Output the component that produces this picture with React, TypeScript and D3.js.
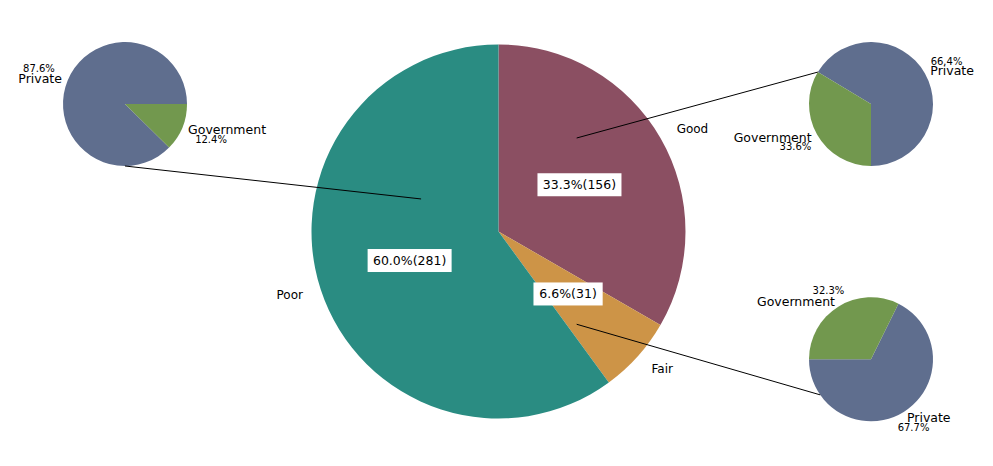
import React from 'react';
import * as d3 from 'd3';

const mainCategories = ['Good', 'Fair', 'Poor'];
const mainValues = [156, 31, 281];
const mainColors = ['#8B4F62', '#CD9447', '#2A8C82'];

const subCategories = ['Private', 'Government'];
const goodSub = [66.4, 33.6];
const fairSub = [67.7, 32.3];
const poorSub = [87.6, 12.4];
const subColors = ['#5F6E8E', '#72984E'];

type Wedge = { t1: number; t2: number; mid: number; value: number; frac: number };

function wedges(values: number[], startAngle: number, counterclock: boolean): Wedge[] {
  const total = d3.sum(values);
  let theta = startAngle;
  return values.map((v) => {
    const span = (v / total) * 360 * (counterclock ? 1 : -1);
    const t1 = theta;
    const t2 = theta + span;
    theta = t2;
    return { t1, t2, mid: (t1 + t2) / 2, value: v, frac: v / total };
  });
}

const rad = (deg: number) => (deg * Math.PI) / 180;
const pt = (cx: number, cy: number, r: number, deg: number): [number, number] => [
  cx + r * Math.cos(rad(deg)),
  cy - r * Math.sin(rad(deg)),
];

function wedgePath(w: Wedge, r: number): string {
  const a = d3.arc();
  const s = rad(90 - Math.max(w.t1, w.t2));
  const e = rad(90 - Math.min(w.t1, w.t2));
  return a({ innerRadius: 0, outerRadius: r, startAngle: s, endAngle: e } as any) || '';
}

const FONT = 'DejaVu Sans, sans-serif';

function SmallPie(props: {
  cx: number; cy: number; r: number; values: number[]; start: number; pctDist: number;
}) {
  const { cx, cy, r, values, start, pctDist } = props;
  const ws = wedges(values, start, true);
  return (
    <g>
      <g transform={`translate(${cx},${cy})`}>
        {ws.map((w, i) => (
          <path key={i} d={wedgePath(w, r)} fill={subColors[i]} />
        ))}
      </g>
      {ws.map((w, i) => {
        const [lx, ly] = pt(cx, cy, r * 1.1, w.mid);
        const [px, py] = pt(cx, cy, r * pctDist, w.mid);
        const anchor = Math.cos(rad(w.mid)) >= 0 ? 'start' : 'end';
        return (
          <g key={'l' + i}>
            <text x={lx} y={ly} textAnchor={anchor} dominantBaseline="central" fontSize={12.5} fontFamily={FONT} fill="#000">
              {subCategories[i]}
            </text>
            <text x={px} y={py} textAnchor="middle" dominantBaseline="central" fontSize={10} fontFamily={FONT} fill="#000">
              {(w.frac * 100).toFixed(1) + '%'}
            </text>
          </g>
        );
      })}
    </g>
  );
}

export default function App() {
  const W = 993, H = 466;
  const cx = 498.5, cy = 231.5, R = 187;
  const mw = wedges(mainValues, 90, false);
  const total = d3.sum(mainValues);

  const sr = 62;
  const pies = [
    { key: 'Poor', cx: 125, cy: 104, values: poorSub, start: 0, pctDist: 1.5, connAngle: 270, main: [-0.414, -0.174] },
    { key: 'Good', cx: 871, cy: 104, values: goodSub, start: 270, pctDist: 1.4, connAngle: 149, main: [0.418, -0.5] },
    { key: 'Fair', cx: 871, cy: 359.3, values: fairSub, start: 180, pctDist: 1.3, connAngle: 215, main: [0.418, 0.496] },
  ];

  return (
    <svg width={W} height={H} style={{ position: 'absolute', left: 0, top: 0, background: '#fff' }}>
      <rect width={W} height={H} fill="#fff" />
      <g transform={`translate(${cx},${cy})`}>
        {mw.map((w, i) => (
          <path key={i} d={wedgePath(w, R)} fill={mainColors[i]} />
        ))}
      </g>
      {pies.map((p) => (
        <SmallPie key={p.key} cx={p.cx} cy={p.cy} r={sr} values={p.values} start={p.start} pctDist={p.pctDist} />
      ))}
      {pies.map((p) => {
        const [x1, y1] = pt(p.cx, p.cy, sr, p.connAngle);
        const x2 = cx + p.main[0] * R;
        const y2 = cy + p.main[1] * R;
        return <line key={'c' + p.key} x1={x1} y1={y1} x2={x2} y2={y2} stroke="#000" strokeWidth={1} />;
      })}
      {mw.map((w, i) => {
        const [lx, ly] = pt(cx, cy, R * 1.1, w.mid);
        const anchor = Math.cos(rad(w.mid)) >= 0 ? 'start' : 'end';
        return (
          <text key={'ml' + i} x={lx} y={ly} textAnchor={anchor} dominantBaseline="central" fontSize={12} fontFamily={FONT} fill="#000">
            {mainCategories[i]}
          </text>
        );
      })}
      {mw.map((w, i) => {
        const [px, py] = pt(cx, cy, R * 0.5, w.mid);
        const label = `${(w.frac * 100).toFixed(1)}%(${Math.round(w.frac * total)})`;
        const tw = label.length * 7.4;
        return (
          <g key={'mp' + i}>
            <rect x={px - tw / 2 - 5} y={py - 11.5} width={tw + 10} height={23} fill="#fff" />
            <text x={px} y={py} textAnchor="middle" dominantBaseline="central" fontSize={12.5} fontFamily={FONT} fill="#000">
              {label}
            </text>
          </g>
        );
      })}
    </svg>
  );
}
